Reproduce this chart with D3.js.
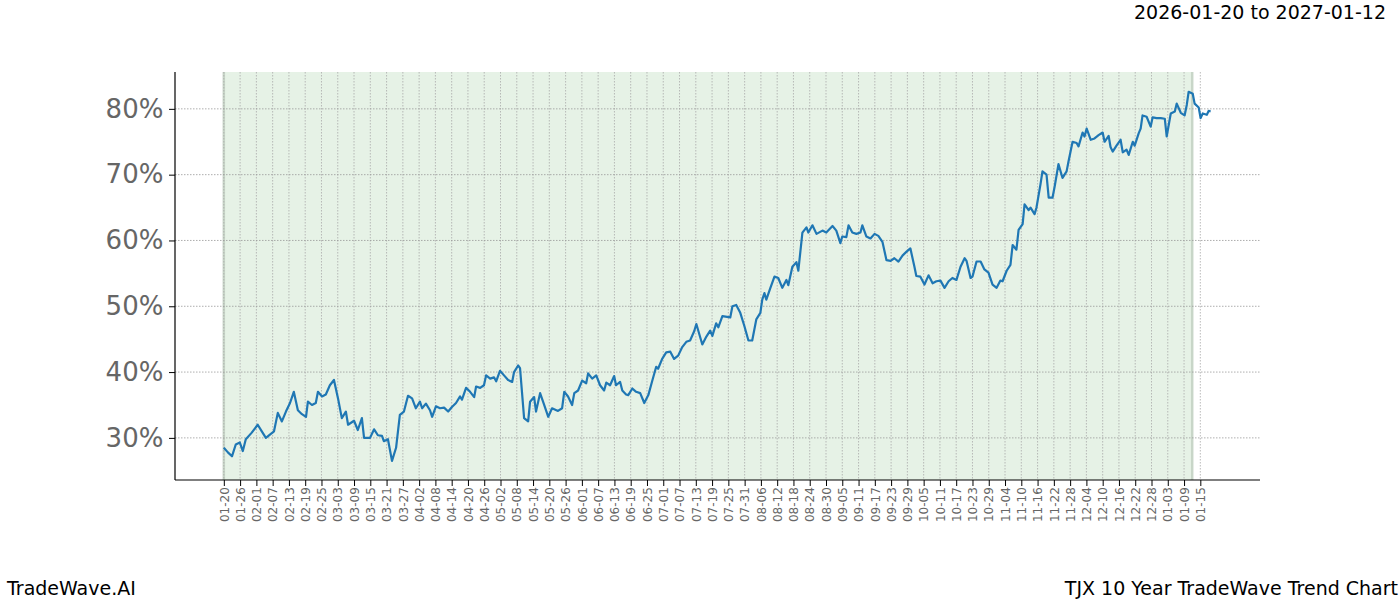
<!DOCTYPE html>
<html><head><meta charset="utf-8">
<script src="https://cdn.jsdelivr.net/npm/d3@7"></script>
<style>body{margin:0;background:#fff;font-family:"DejaVu Sans",sans-serif;}</style>
</head><body><svg id="c" width="1400" height="600"></svg>
<script>
const startDate = "2026-01-20";
const shadeEndDay = 357;
const dayOffsets = [0,1.5,3,4.4,5.9,7,8.1,10.3,12.5,14,15.5,17,18.5,19.9,21.4,22.9,24.4,25.8,27.3,28.8,30.3,31,32.5,33.9,34.7,36.2,37.6,39.1,40.6,42.1,43.5,45,45.8,48,49.4,50.9,51.7,53.9,55.4,56.8,58.3,59,60.5,62,63.5,64.9,
66.4,67.9,69.4,70.8,72.3,73.1,74.5,76,76.8,78.2,79.7,81.2,82.7,84.1,85.6,87.1,87.8,89.3,90.8,92.3,93,94.5,95.9,96.7,98.2,99.6,100.4,101.8,103.3,104.8,106.3,107,108.5,109.2,110.7,112.2,112.9,114.4,115.1,116.6,118.1,119.6,121,123.2,124.7,125.5,126.9,128.4,129.2,130.6,132.1,133.6,134.3,135.8,137.3,138.7,140.2,141,142.4,143.9,144.6,146.1,146.9,148.3,149.1,150.6,152,153.5,155,156.5,157.9,159.4,160.1,161.6,163.1,164.6,166,167.5,169,170.5,171.9,173.4,174.2,176.4,177.9,179.3,180.1,181.5,182.3,183.8,186.7,187.5,188.9,190.4,191.9,193.4,194.8,196.3,197.8,198.5,199.3,200,201.5,203,204.4,205.9,207.4,208.1,209.6,211.1,211.8,213.3,214.8,215.5,217,218.5,220.7,222.1,224.4,225.8,227.3,228,229.5,230.3,231.7,233.2,234.7,235.4,236.9,238.4,239.9,241.3,242.8,244.3,245.8,247.2,248.7,250.2,251.7,253.1,254.6,255.3,256.8,258.3,259.8,261.3,262.7,264.2,265.7,267.2,268.6,270.1,271.6,273.1,273.8,275.3,276,277.5,279,280.4,281.9,283.4,284.9,286.3,287.1,288.6,290,290.8,292.2,293,294.5,295.2,296.7,297.4,298.9,299.6,301.1,301.8,303.3,304.1,305.5,306.3,307.7,309.2,310.7,311.4,312.9,314.4,315.1,316.6,317.3,318.1,319.6,321,322.5,324,324.7,326.2,326.9,327.7,329.1,330.6,331.4,332.8,333.6,335.1,335.8,337.3,338,338.7,340.2,341.7,342.4,343.9,345.4,346.9,347.6,349.1,350.6,351.3,352.8,354.2,355,355.7,357.2,357.9,359.4,360.1,360.9,362.4,363.1,363.8];
const values = [28.5,27.8,27.2,29,29.3,28,29.8,30.8,32,31,30,30.5,31,33.8,32.5,34,35.3,37,34.2,33.6,33.2,35.5,35,35.3,37,36.3,36.6,38,38.8,36,33,34,32,32.6,31.2,33,30,30,31.3,30.4,30.3,29.5,29.8,26.5,28.5,33.5,
34,36.4,36,34.5,35.5,34.5,35.2,34.2,33.2,34.8,34.5,34.6,34,34.7,35.3,36.3,35.8,37.6,37,36.2,37.8,37.6,38,39.5,39,39.2,38.6,40.2,39.5,38.8,38.5,40,41,40.6,33,32.5,35.5,36.2,34,36.8,35,33.2,34.5,34.1,34.5,37,36.3,35,36.8,37.2,38.7,38.3,39.8,39,39.5,38,37.2,38.4,38,39.4,38,38.5,37.2,36.6,36.5,37.5,37,36.8,35.3,36.5,38.6,40.8,40.5,42,43,43.1,42,42.5,43.8,44.6,44.8,46.2,47.3,44.2,45.4,46.3,45.5,47.4,46.8,48.5,48.3,50,50.2,49,47,44.8,44.8,48,49,51,52,51,52.8,54.5,54.3,52.8,54,53.2,56,56.7,55.4,61.2,62,61.2,62.3,61,61.5,61.2,62.2,61.5,59.6,60.6,60.5,62.3,61.2,61,61.2,62.3,60.6,60.3,61,60.7,59.8,57,56.9,57.3,56.8,57.7,58.3,58.8,56,54.6,54.5,53.3,54.7,53.5,53.8,53.9,52.8,53.8,54.3,54,56,57.3,56.9,54.3,54.5,56.8,56.8,55.6,55.1,53.3,52.8,53.9,53.8,55.4,56.3,59.3,58.6,61.6,62.5,65.5,64.6,65,64,65,68.6,70.5,70,66.5,66.5,68.2,71.6,69.5,70.5,72,75,74.8,74.3,76.4,75.8,77,75.3,75.5,76,76.4,75,75.9,74.2,73.5,74.4,75.3,73.4,73.8,73,75,74.4,76.3,77,79,78.8,77.3,78.7,78.6,78.6,78.5,75.8,79.3,79.6,80.8,79.4,79,80.6,82.6,82.3,80.8,80.2,78.6,79.3,79.1,79.7,79.6];
const yTicks = [30,40,50,60,70,80];
const title = "2026-01-20 to 2027-01-12";
const footLeft = "TradeWave.AI", footRight = "TJX 10 Year TradeWave Trend Chart";

const svg = d3.select("#c");
const L=175,R=1260,T=72,B=480;
const d0 = d3.utcParse("%Y-%m-%d")(startDate);
const toDate = d => new Date(d0.getTime() + d*864e5);
const x = d3.scaleUtc().domain([toDate(-18), toDate(382)]).range([L,R]);
const y = d3.scaleLinear().domain([23.6,85.6]).range([B,T]);
const ticks = d3.range(0,361,6).map(toDate);

svg.append("rect").attr("x",x(toDate(0))).attr("y",T).attr("width",x(toDate(shadeEndDay))-x(toDate(0))).attr("height",B-T).attr("fill","#e6f2e6");
[0,shadeEndDay].forEach(d=>svg.append("line").attr("x1",x(toDate(d))).attr("x2",x(toDate(d))).attr("y1",T).attr("y2",B).attr("stroke","#c8d6c8").attr("stroke-width",2.5));
ticks.forEach(t=>svg.append("line").attr("x1",x(t)).attr("x2",x(t)).attr("y1",T).attr("y2",B).attr("stroke","#aaa").attr("stroke-width",0.8).attr("stroke-dasharray","1.5,1.5"));
yTicks.forEach(v=>svg.append("line").attr("x1",L).attr("x2",R).attr("y1",y(v)).attr("y2",y(v)).attr("stroke","#999").attr("stroke-width",0.8).attr("stroke-dasharray","1.5,1.5"));

const line = d3.line().x((d,i)=>x(toDate(dayOffsets[i]))).y(d=>y(d));
svg.append("path").datum(values).attr("d",line).attr("fill","none").attr("stroke","#1f77b4").attr("stroke-width",2.2).attr("stroke-linejoin","round");

const ya = svg.append("g").attr("transform",`translate(${L},0)`).call(d3.axisLeft(y).tickValues(yTicks).tickFormat(d=>d+"%").tickSize(6));
ya.selectAll("text").attr("font-size",26).attr("fill","#666").attr("font-family","DejaVu Sans").attr("dx","-0.1em");
const xa = svg.append("g").attr("transform",`translate(0,${B})`).call(d3.axisBottom(x).tickValues(ticks).tickFormat(d3.utcFormat("%m-%d")).tickSize(6));
xa.selectAll("text").attr("font-size",12).attr("fill","#666").attr("font-family","DejaVu Sans")
  .attr("transform","rotate(-90)").attr("text-anchor","end").attr("dx","-0.6em").attr("dy","-0.4em");
[ya,xa].forEach(a=>{a.select(".domain").attr("stroke","#000").attr("stroke-width",1.2);a.selectAll(".tick line").attr("stroke","#000");});
xa.select(".domain").attr("d",`M${L},0H${R}`);
ya.select(".domain").attr("d",`M0,${T}V${B}`);

svg.append("text").attr("x",1386).attr("y",19).attr("text-anchor","end").attr("font-size",19).text(title);
svg.append("text").attr("x",7).attr("y",595).attr("font-size",19).text(footLeft);
svg.append("text").attr("x",1398).attr("y",595).attr("text-anchor","end").attr("font-size",19).text(footRight);
</script></body></html>
